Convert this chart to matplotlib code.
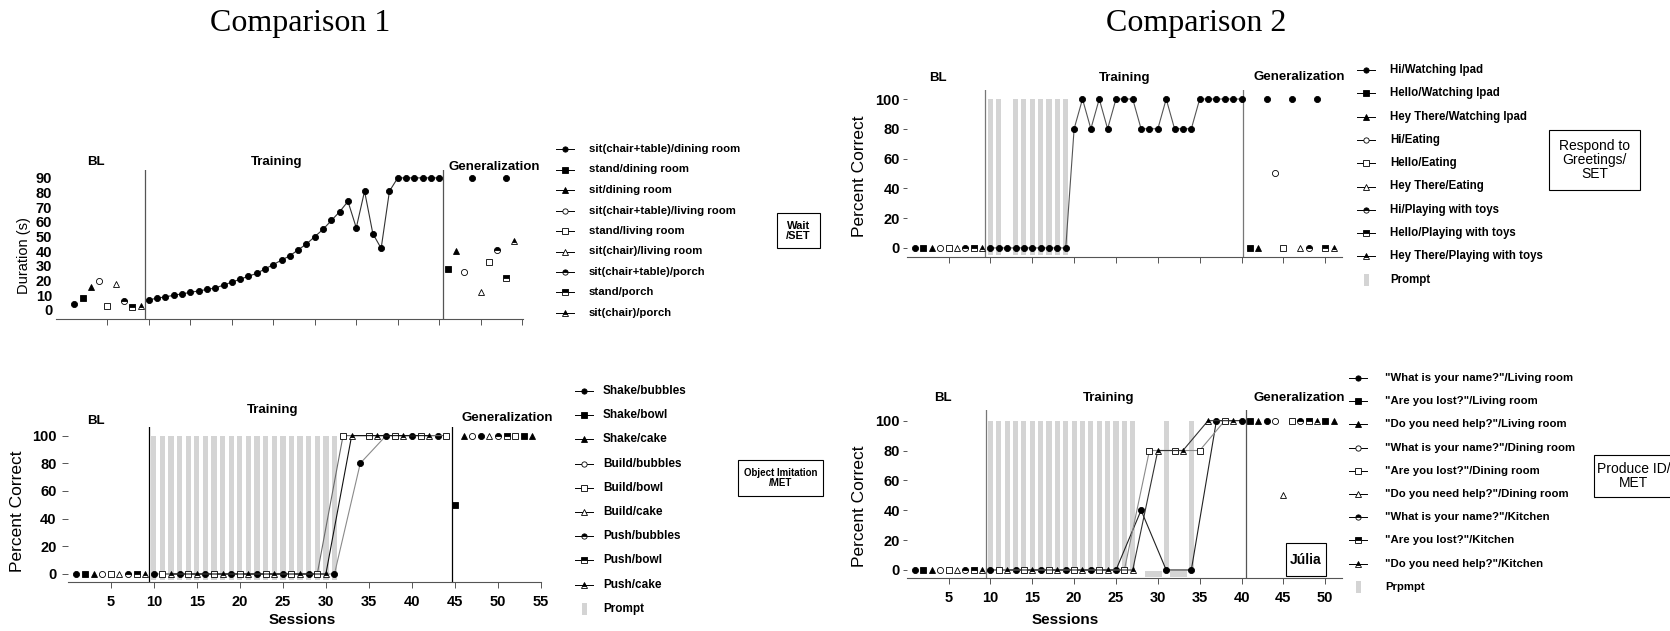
import matplotlib
matplotlib.use('Agg')
import matplotlib.pyplot as plt
from matplotlib.lines import Line2D
from matplotlib.patches import Rectangle

W, H = 1670, 631
SANS = ['Liberation Sans', 'DejaVu Sans']
plt.rcParams['font.family'] = SANS

# ---------------- Comparison 1 / Wait (duration, s) ----------------
wait_labels = ['sit(chair+table)/dining room', 'stand/dining room', 'sit/dining room',
               'sit(chair+table)/living room', 'stand/living room', 'sit(chair)/living room',
               'sit(chair+table)/porch', 'stand/porch', 'sit(chair)/porch']
wait_bl_sessions = [1, 2, 3, 4, 5, 6, 7, 8, 9]
wait_bl_series = [0, 1, 2, 3, 4, 5, 6, 7, 8]
wait_bl_values = [4, 8, 16, 20, 3, 18, 6, 2, 3]
wait_train_sessions = list(range(10, 46))
wait_train_values = [7, 8, 9, 10, 11, 12, 13, 14, 15, 17, 19, 21, 23, 25, 28, 31, 34, 37,
                     41, 45, 50, 55, 61, 67, 74, 56, 81, 52, 42, 81, 90, 90, 90, 90, 90, 90]
wait_gen_sessions = [46, 47, 48, 49, 50, 51, 52, 53, 53, 54]
wait_gen_series = [1, 2, 3, 0, 5, 4, 6, 0, 7, 8]
wait_gen_values = [28, 40, 26, 90, 12, 33, 41, 90, 22, 47]

# ---------------- Comparison 1 / Object imitation ----------------
obj_labels = ['Shake/bubbles', 'Shake/bowl', 'Shake/cake', 'Build/bubbles', 'Build/bowl',
              'Build/cake', 'Push/bubbles', 'Push/bowl', 'Push/cake']
obj_bl_sessions = [1, 2, 3, 4, 5, 6, 7, 8, 9]
obj_bl_series = [0, 1, 2, 3, 4, 5, 6, 7, 8]
obj_bl_values = [0, 0, 0, 0, 0, 0, 0, 0, 0]
obj_bubbles_sessions = [10, 13, 16, 19, 22, 25, 28, 31, 34, 37, 40, 43]
obj_bubbles_values = [0, 0, 0, 0, 0, 0, 0, 0, 80, 100, 100, 100]
obj_bowl_sessions = [11, 14, 17, 20, 23, 26, 29, 32, 35, 38, 41, 44]
obj_bowl_values = [0, 0, 0, 0, 0, 0, 0, 100, 100, 100, 100, 100]
obj_cake_sessions = [12, 15, 18, 21, 24, 27, 30, 33, 36, 39, 42]
obj_cake_values = [0, 0, 0, 0, 0, 0, 0, 100, 100, 100, 100]
obj_gen_sessions = [45, 46, 47, 48, 49, 50, 51, 52, 53, 54]
obj_gen_series = [1, 2, 3, 0, 5, 6, 7, 4, 1, 2]
obj_gen_values = [50, 100, 100, 100, 100, 100, 100, 100, 100, 100]
obj_prompt_sessions = [10, 11, 12, 13, 14, 15, 16, 17, 18, 19, 20, 21, 22, 23, 24, 25,
                       26, 27, 28, 29, 30, 31]

# ---------------- Comparison 2 / Respond to greetings ----------------
greet_labels = ['Hi/Watching Ipad', 'Hello/Watching Ipad', 'Hey There/Watching Ipad',
                'Hi/Eating', 'Hello/Eating', 'Hey There/Eating', 'Hi/Playing with toys',
                'Hello/Playing with toys', 'Hey There/Playing with toys']
greet_bl_sessions = [1, 2, 3, 4, 5, 6, 7, 8, 9]
greet_bl_series = [0, 1, 2, 3, 4, 5, 6, 7, 8]
greet_bl_values = [0, 0, 0, 0, 0, 0, 0, 0, 0]
greet_train_sessions = list(range(10, 41))
greet_train_values = [0, 0, 0, 0, 0, 0, 0, 0, 0, 0, 80, 100, 80, 100, 80, 100, 100, 100,
                      80, 80, 80, 100, 80, 80, 80, 100, 100, 100, 100, 100, 100]
greet_gen_sessions = [41, 42, 43, 44, 45, 46, 47, 48, 49, 50, 51]
greet_gen_series = [1, 2, 0, 3, 4, 0, 5, 6, 0, 7, 8]
greet_gen_values = [0, 0, 100, 50, 0, 100, 0, 0, 100, 0, 0]
greet_prompt_sessions = [10, 11, 13, 14, 15, 16, 17, 18, 19]

# ---------------- Comparison 2 / Produce ID ----------------
id_labels = ['"What is your name?"/Living room', '"Are you lost?"/Living room',
             '"Do you need help?"/Living room', '"What is your name?"/Dining room',
             '"Are you lost?"/Dining room', '"Do you need help?"/Dining room',
             '"What is your name?"/Kitchen', '"Are you lost?"/Kitchen',
             '"Do you need help?"/Kitchen']
id_bl_sessions = [1, 2, 3, 4, 5, 6, 7, 8, 9]
id_bl_series = [0, 1, 2, 3, 4, 5, 6, 7, 8]
id_bl_values = [0, 0, 0, 0, 0, 0, 0, 0, 0]
id_name_sessions = [10, 13, 16, 19, 22, 25, 28, 31, 34, 37, 40]
id_name_values = [0, 0, 0, 0, 0, 0, 40, 0, 0, 100, 100]
id_lost_sessions = [11, 14, 17, 20, 23, 26, 29, 32, 35, 38]
id_lost_values = [0, 0, 0, 0, 0, 0, 80, 80, 80, 100]
id_help_sessions = [12, 15, 18, 21, 24, 27, 30, 33, 36, 39]
id_help_values = [0, 0, 0, 0, 0, 0, 80, 80, 100, 100]
id_gen_sessions = [41, 42, 43, 44, 45, 46, 47, 48, 49, 50, 51]
id_gen_series = [1, 2, 0, 3, 5, 4, 6, 7, 8, 1, 2]
id_gen_values = [100, 100, 100, 100, 50, 100, 100, 100, 100, 100, 100]
id_prompt_sessions = [10, 11, 12, 13, 14, 15, 16, 17, 18, 19, 20, 21, 22, 23, 24, 25,
                      26, 27, 31, 34]
id_partial_prompt_sessions = [29, 30, 32, 33]

# marker per series: filled, open, half-filled circle / square / triangle
MARKERS = [('o', 'full'), ('s', 'full'), ('^', 'full'),
           ('o', 'open'), ('s', 'open'), ('^', 'open'),
           ('o', 'half'), ('s', 'half'), ('^', 'half')]
PROMPT_GRAY = '#d4d4d4'


def mstyle(k, ms=4.4):
    m, kind = MARKERS[k]
    d = dict(marker=m, markersize=ms, markeredgecolor='black', markeredgewidth=0.6)
    if kind == 'full':
        d['markerfacecolor'] = 'black'
    elif kind == 'open':
        d['markerfacecolor'] = 'white'
    else:
        d.update(fillstyle='top', markerfacecolor='black', markerfacecoloralt='white')
    return d


def points(ax, sessions, series, values):
    for s, k, v in zip(sessions, series, values):
        ax.plot([s], [v], linestyle='none', zorder=4, clip_on=False, **mstyle(k))


def line(ax, sessions, values, k, color):
    ax.plot(sessions, values, color=color, lw=0.8, zorder=3, clip_on=False, **mstyle(k))


def px_axes(fig, left, right, top, bottom):
    return fig.add_axes([left / W, 1 - bottom / H, (right - left) / W, (bottom - top) / H])


def ftext(fig, x, y, s, **kw):
    return fig.text(x / W, 1 - y / H, s, **kw)


def style_axes(ax, xticks, yticks, xlabels, ylen, ypad):
    for side in ('left', 'top', 'right'):
        ax.spines[side].set_visible(False)
    ax.spines['bottom'].set_color('#555555')
    ax.spines['bottom'].set_linewidth(0.8)
    ax.set_xticks(xticks)
    ax.set_yticks(yticks)
    ax.tick_params(axis='x', direction='out', length=4, width=0.7, color='#555555',
                   labelsize=10.5, pad=5, labelbottom=xlabels)
    ax.tick_params(axis='y', direction='out', length=ylen, width=0.7, color='#555555',
                   labelsize=10.5, pad=ypad)
    for t in ax.get_xticklabels() + ax.get_yticklabels():
        t.set_fontweight('bold')
    ax.patch.set_visible(False)


def legend_block(fig, x_mark, x_text, y0, dy, labels, size, prompt_label=None):
    for i, lab in enumerate(labels):
        y = 1 - (y0 + i * dy) / H
        fig.add_artist(Line2D([(x_mark - 9) / W, x_mark / W, (x_mark + 9) / W], [y, y, y],
                              transform=fig.transFigure, color='black', lw=0.7,
                              markevery=[1], **mstyle(i, ms=3.8)))
        ftext(fig, x_text, y0 + i * dy, lab, fontsize=size, fontweight='bold',
              va='center', ha='left')
    if prompt_label:
        y = y0 + len(labels) * dy
        fig.add_artist(Rectangle(((x_mark - 2.5) / W, 1 - (y + 6) / H), 5 / W, 12 / H,
                                 transform=fig.transFigure, color=PROMPT_GRAY, lw=0))
        ftext(fig, x_text, y, prompt_label, fontsize=size, fontweight='bold',
              va='center', ha='left')


def label_box(fig, x0, x1, y0, y1, s, size, weight='bold', cx=None):
    fig.add_artist(Rectangle((x0 / W, 1 - y1 / H), (x1 - x0) / W, (y1 - y0) / H,
                             transform=fig.transFigure, fc='white', ec='black', lw=0.8,
                             clip_on=False))
    if cx is None:
        cx = (x0 + x1) / 2
    ftext(fig, cx, (y0 + y1) / 2, s, fontsize=size, fontweight=weight,
          ha='center', va='center', linespacing=1.0)


def phase_labels(fig, items, size=9.5):
    for x, y, s in items:
        ftext(fig, x, y, s, fontsize=size, fontweight='bold', ha='center', va='center')


fig = plt.figure(figsize=(W / 100, H / 100), dpi=100)

ftext(fig, 300, 24, 'Comparison 1', fontsize=23, family=['Liberation Serif'],
      ha='center', va='center')
ftext(fig, 1196, 24, 'Comparison 2', fontsize=23, family=['Liberation Serif'],
      ha='center', va='center')

# ---- top left: Wait ----
ax1 = px_axes(fig, 56.4, 523, 170.3, 318.5)
ax1.set_xlim(-1.15, 55.1)
ax1.set_ylim(-5.8, 95.2)
style_axes(ax1, range(5, 56, 5), range(0, 91, 10), False, 0, 3)
ax1.axvline(9.5, color='#555555', lw=0.9)
ax1.axvline(45.5, color='#555555', lw=0.9)
points(ax1, wait_bl_sessions, wait_bl_series, wait_bl_values)
line(ax1, wait_train_sessions, wait_train_values, 0, '#333333')
points(ax1, wait_gen_sessions, wait_gen_series, wait_gen_values)
ftext(fig, 24, 256, 'Duration (s)', fontsize=10.5, rotation=90, ha='center', va='center')
phase_labels(fig, [(96, 162, 'BL'), (277, 162, 'Training'), (494, 167, 'Generalization')])
legend_block(fig, 565, 589, 149, 20.5, wait_labels, 8.2)
label_box(fig, 777, 820, 213, 248, 'Wait\n/SET', 8)

# ---- bottom left: Object imitation ----
ax2 = px_axes(fig, 67.7, 541, 427.3, 582.3)
ax2.set_xlim(0, 55)
ax2.set_ylim(-6, 106)
style_axes(ax2, range(5, 56, 5), range(0, 101, 20), True, 4, 4)
ax2.bar(obj_prompt_sessions, 104, bottom=-4, width=0.62, color=PROMPT_GRAY, zorder=1)
ax2.axvline(9.5, color='black', lw=0.9)
ax2.axvline(44.6, color='black', lw=0.9)
points(ax2, obj_bl_sessions, obj_bl_series, obj_bl_values)
line(ax2, obj_bubbles_sessions, obj_bubbles_values, 0, '#8a8a8a')
line(ax2, obj_bowl_sessions, obj_bowl_values, 4, '#6a6a6a')
line(ax2, obj_cake_sessions, obj_cake_values, 8, '#111111')
points(ax2, obj_gen_sessions, obj_gen_series, obj_gen_values)
ftext(fig, 18, 511, 'Percent Correct', fontsize=12.5, rotation=90, ha='center', va='center')
ftext(fig, 302, 620, 'Sessions', fontsize=11, fontweight='bold', ha='center', va='center')
phase_labels(fig, [(96, 421, 'BL'), (273, 410, 'Training'), (507, 418, 'Generalization')])
legend_block(fig, 584, 603, 391, 24.2, obj_labels, 8.5, 'Prompt')
label_box(fig, 738, 823, 460, 496, 'Object Imitation\n/MET', 7)

# ---- top right: Respond to greetings ----
ax3 = px_axes(fig, 906.7, 1342, 90.1, 256.9)
ax3.set_xlim(0, 52)
ax3.set_ylim(-6, 106)
style_axes(ax3, range(5, 51, 5), range(0, 101, 20), False, 3, 2)
ax3.bar(greet_prompt_sessions, 105, bottom=-5, width=0.62, color=PROMPT_GRAY, zorder=1)
ax3.axvline(9.4, color='#777777', lw=0.9)
ax3.axvline(40.2, color='#777777', lw=0.9)
points(ax3, greet_bl_sessions, greet_bl_series, greet_bl_values)
line(ax3, greet_train_sessions, greet_train_values, 0, '#555555')
points(ax3, greet_gen_sessions, greet_gen_series, greet_gen_values)
ftext(fig, 860, 176, 'Percent Correct', fontsize=12.5, rotation=90, ha='center', va='center')
phase_labels(fig, [(938, 78, 'BL'), (1125, 78, 'Training'), (1299, 77, 'Generalization')])
legend_block(fig, 1366, 1390, 70, 23.3, greet_labels, 8.3, 'Prompt')
label_box(fig, 1549, 1640, 130, 190, 'Respond to\nGreetings/\nSET', 10, 'normal')

# ---- bottom right: Produce ID ----
ax4 = px_axes(fig, 906.7, 1342, 410.2, 578.2)
ax4.set_xlim(0, 52)
ax4.set_ylim(-5.5, 107)
style_axes(ax4, range(5, 51, 5), range(0, 101, 20), True, 3, 2)
ax4.bar(id_prompt_sessions, 102, bottom=-2, width=0.62, color=PROMPT_GRAY, zorder=1)
ax4.bar(id_partial_prompt_sessions, 3.5, bottom=-4.5, width=1.0, color=PROMPT_GRAY, zorder=1)
ax4.axvline(9.5, color='#777777', lw=0.9)
ax4.axvline(40.5, color='#555555', lw=0.9)
points(ax4, id_bl_sessions, id_bl_series, id_bl_values)
line(ax4, id_name_sessions, id_name_values, 0, '#222222')
line(ax4, id_lost_sessions, id_lost_values, 4, '#8a8a8a')
line(ax4, id_help_sessions, id_help_values, 8, '#333333')
points(ax4, id_gen_sessions, id_gen_series, id_gen_values)
ftext(fig, 860, 506, 'Percent Correct', fontsize=12.5, rotation=90, ha='center', va='center')
ftext(fig, 1065, 620, 'Sessions', fontsize=11, fontweight='bold', ha='center', va='center')
phase_labels(fig, [(943, 398, 'BL'), (1109, 398, 'Training'), (1299, 398, 'Generalization')])
legend_block(fig, 1358, 1385, 378, 23.2, id_labels, 8.2, 'Prpmpt')
label_box(fig, 1286, 1326, 543, 576, 'Júlia', 10)
label_box(fig, 1594, 1700, 455, 497, 'Produce ID/\nMET', 10, 'normal', cx=1634)

fig.savefig('out.png', dpi=100)
